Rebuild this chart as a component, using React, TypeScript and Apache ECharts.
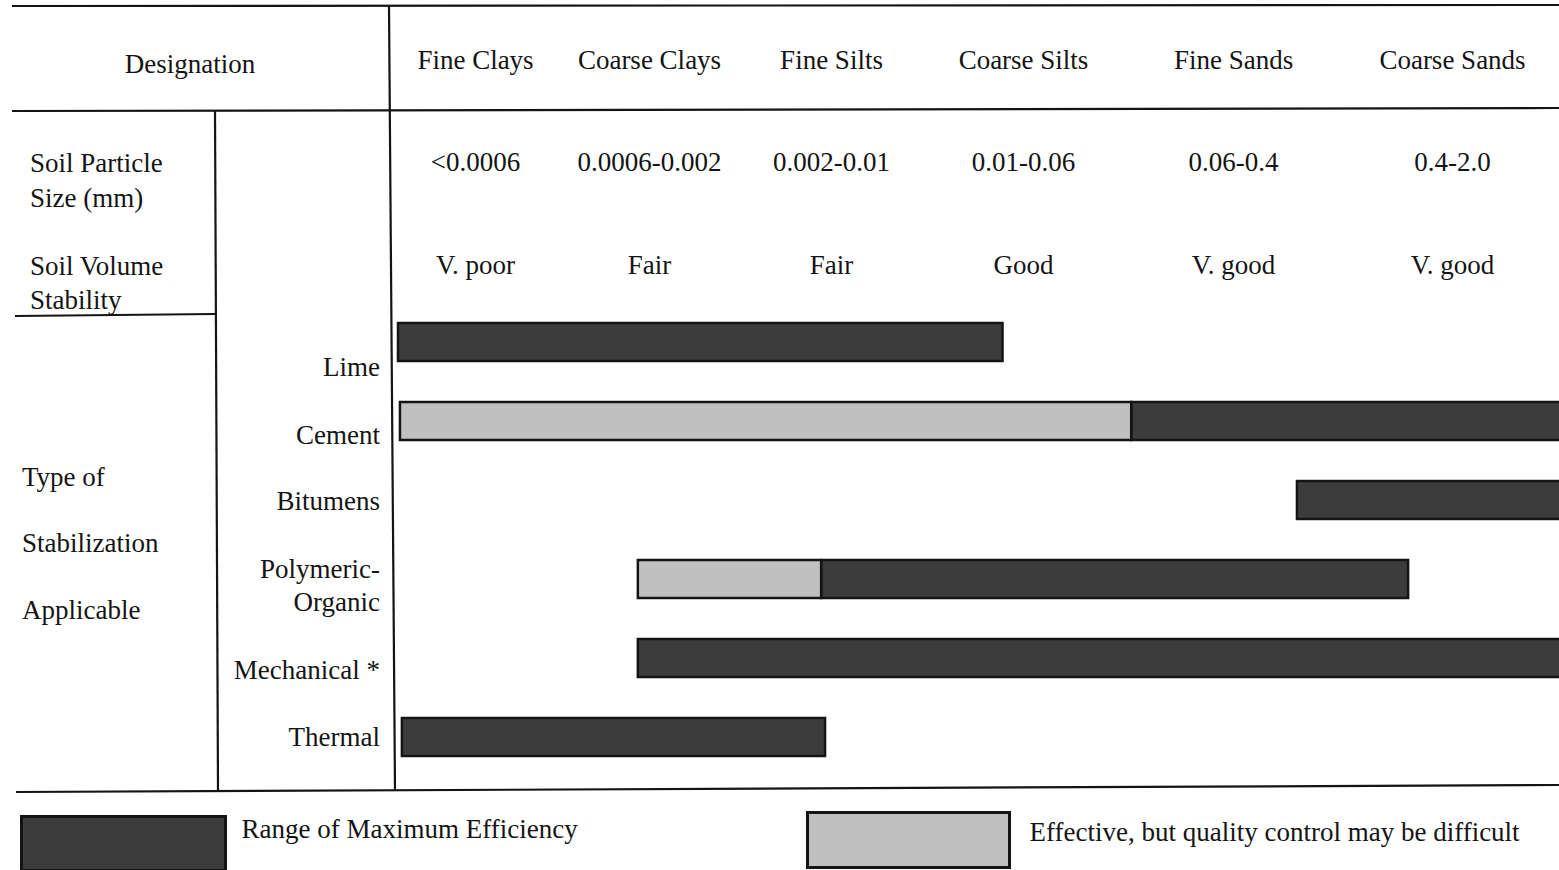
import React, { useEffect, useRef } from "react";
import * as echarts from "echarts";

// ---- data ----
const soilClasses = ["Fine Clays", "Coarse Clays", "Fine Silts", "Coarse Silts", "Fine Sands", "Coarse Sands"];
const particleSizes = ["<0.0006", "0.0006-0.002", "0.002-0.01", "0.01-0.06", "0.06-0.4", "0.4-2.0"];
const volumeStability = ["V. poor", "Fair", "Fair", "Good", "V. good", "V. good"];
const stabilizationTypes = ["Lime", "Cement", "Bitumens", "Polymeric-\nOrganic", "Mechanical *", "Thermal"];

// extents along the soil-class scale (0 = fine edge of "Fine Clays", 1 unit = one soil class)
const maxEfficiencyStart: (number | null)[] = [0.2, 3.96, 4.81, 2.37, 1.43, 0.22];
const maxEfficiencyEnd: (number | null)[] = [3.3, 6.3, 6.3, 5.38, 6.3, 2.39];
const effectiveStart: (number | null)[] = [null, 0.21, null, 1.43, null, null];
const effectiveEnd: (number | null)[] = [null, 3.96, null, 2.37, null, null];

const seriesNames = ["Range of Maximum Efficiency", "Effective, but quality control may be difficult"];

// ---- styling ----
const FONT = "'Liberation Serif', 'Times New Roman', serif";
const INK = "#141414";
const DARK = "#3c3c3c";
const LIGHT = "#c0c0c0";
const FS = 27;

// typeset table columns are not evenly spaced: small horizontal label nudges (px)
const columnNudge = [19, -2, -15, -18, -3, 21];
// row-label vertical nudges (px) relative to the bar row centre
const rowNudge = [25, 14, 1, 6, 12, 0];

function buildRanges(starts: (number | null)[], ends: (number | null)[]) {
  const out: number[][] = [];
  starts.forEach((s, i) => {
    const e = ends[i];
    if (s !== null && e !== null) out.push([i, s, e]);
  });
  return out;
}

function makeRender(fill: string) {
  return (params: any, api: any) => {
    const row = api.value(0);
    const a = api.coord([api.value(1), row]);
    const b = api.coord([api.value(2), row]);
    const h = api.size([0, 1])[1] * 0.48;
    return {
      type: "rect",
      shape: { x: a[0], y: a[1] - h / 2, width: b[0] - a[0], height: h },
      style: { fill, stroke: INK, lineWidth: 2.5 },
    };
  };
}

function line(x1: number, y1: number, x2: number, y2: number, w = 2.2) {
  return {
    type: "line",
    shape: { x1, y1, x2, y2 },
    style: { stroke: INK, lineWidth: w },
    silent: true,
  };
}

function txt(text: string, x: number, y: number, align = "left") {
  return {
    type: "text",
    x,
    y,
    style: {
      text,
      fill: INK,
      fontSize: FS,
      fontFamily: FONT,
      align,
      verticalAlign: "middle",
    },
    silent: true,
  };
}

const baseText = { color: INK, fontSize: FS, fontFamily: FONT };

const headerRich: Record<string, any> = {};
columnNudge.forEach((d, i) => {
  headerRich["c" + i] = {
    ...baseText,
    padding: d >= 0 ? [0, 0, 0, 2 * d] : [0, -2 * d, 0, 0],
  };
});

const rowRich: Record<string, any> = {};
rowNudge.forEach((d, i) => {
  rowRich["r" + i] = {
    ...baseText,
    lineHeight: 33,
    padding: d >= 0 ? [2 * d, 0, 0, 0] : [0, 0, -2 * d, 0],
    align: "right",
  };
});

function headerAxis(offset: number, labels: string[]) {
  return {
    type: "category",
    gridIndex: 0,
    position: "top",
    offset,
    data: soilClasses,
    boundaryGap: true,
    axisLine: { show: false },
    axisTick: { show: false },
    splitLine: { show: false },
    axisLabel: {
      show: true,
      interval: 0,
      margin: 0,
      verticalAlign: "middle",
      ...baseText,
      rich: headerRich,
      formatter: (_v: string, i: number) => `{c${i}|${labels[i]}}`,
    },
  };
}

function rowLabel(v: string, i: number) {
  return v
    .split("\n")
    .map((p) => `{r${i}|${p}}`)
    .join("\n");
}

export default function App() {
  const ref = useRef<HTMLDivElement>(null);

  useEffect(() => {
    if (!ref.current) return;
    const chart = echarts.init(ref.current, null, { renderer: "svg" });
    const option: any = {
      animation: false,
      backgroundColor: "#ffffff",
      textStyle: { fontFamily: FONT },
      grid: {
        left: 359,
        right: 30,
        top: 302.5,
        bottom: 93.5,
        containLabel: false,
        outerBoundsMode: "none",
      },
      xAxis: [
        headerAxis(242.5, soilClasses),
        headerAxis(140.5, particleSizes),
        headerAxis(37.5, volumeStability),
        {
          type: "value",
          gridIndex: 0,
          min: 0,
          max: 6,
          show: false,
        },
      ],
      yAxis: {
        type: "category",
        data: stabilizationTypes,
        inverse: true,
        offset: -21,
        axisLine: { show: false },
        axisTick: { show: false },
        splitLine: { show: false },
        axisLabel: {
          interval: 0,
          margin: 0,
          align: "right",
          ...baseText,
          lineHeight: 33,
          rich: rowRich,
          formatter: (v: string, i: number) => rowLabel(v, i),
        },
      },
      legend: [
        {
          left: 20,
          top: 815,
          padding: 0,
          selectedMode: false,
          itemWidth: 204,
          itemHeight: 54,
          icon: "rect",
          data: [
            {
              name: seriesNames[0],
              itemStyle: { color: DARK, borderColor: INK, borderWidth: 3 },
            },
          ],
          formatter: (n: string) => `{t|${n}}`,
          textStyle: {
            ...baseText,
            rich: { t: { ...baseText, padding: [0, 0, 30, 11] } },
          },
        },
        {
          left: 806,
          top: 811,
          padding: 0,
          selectedMode: false,
          itemWidth: 202,
          itemHeight: 55,
          icon: "rect",
          data: [
            {
              name: seriesNames[1],
              itemStyle: { color: LIGHT, borderColor: INK, borderWidth: 3 },
            },
          ],
          formatter: (n: string) => `{t|${n}}`,
          textStyle: {
            ...baseText,
            rich: { t: { ...baseText, padding: [0, 0, 16, 15] } },
          },
        },
      ],
      series: [
        {
          name: seriesNames[0],
          type: "custom",
          xAxisIndex: 3,
          yAxisIndex: 0,
          clip: false,
          itemStyle: { color: DARK },
          encode: { x: [1, 2], y: 0 },
          renderItem: makeRender(DARK),
          data: buildRanges(maxEfficiencyStart, maxEfficiencyEnd),
        },
        {
          name: seriesNames[1],
          type: "custom",
          xAxisIndex: 3,
          yAxisIndex: 0,
          clip: false,
          itemStyle: { color: LIGHT },
          encode: { x: [1, 2], y: 0 },
          renderItem: makeRender(LIGHT),
          data: buildRanges(effectiveStart, effectiveEnd),
        },
      ],
      graphic: [
        line(12, 6, 1559, 5),
        line(12, 111, 1559, 108),
        line(389, 6, 395, 790),
        line(215, 110, 218, 790),
        line(15, 316, 215, 314),
        line(16, 792, 1559, 785),
        txt("Designation", 190, 64, "center"),
        txt("Soil Particle", 30, 163),
        txt("Size (mm)", 30, 198),
        txt("Soil Volume", 30, 266),
        txt("Stability", 30, 300),
        txt("Type of", 22, 477),
        txt("Stabilization", 22, 543),
        txt("Applicable", 22, 610),
      ],
    };
    chart.setOption(option);
    return () => {
      chart.dispose();
    };
  }, []);

  return (
    <div
      ref={ref}
      style={{
        position: "fixed",
        left: 0,
        top: 0,
        width: 1559,
        height: 870,
        background: "#ffffff",
      }}
    />
  );
}
